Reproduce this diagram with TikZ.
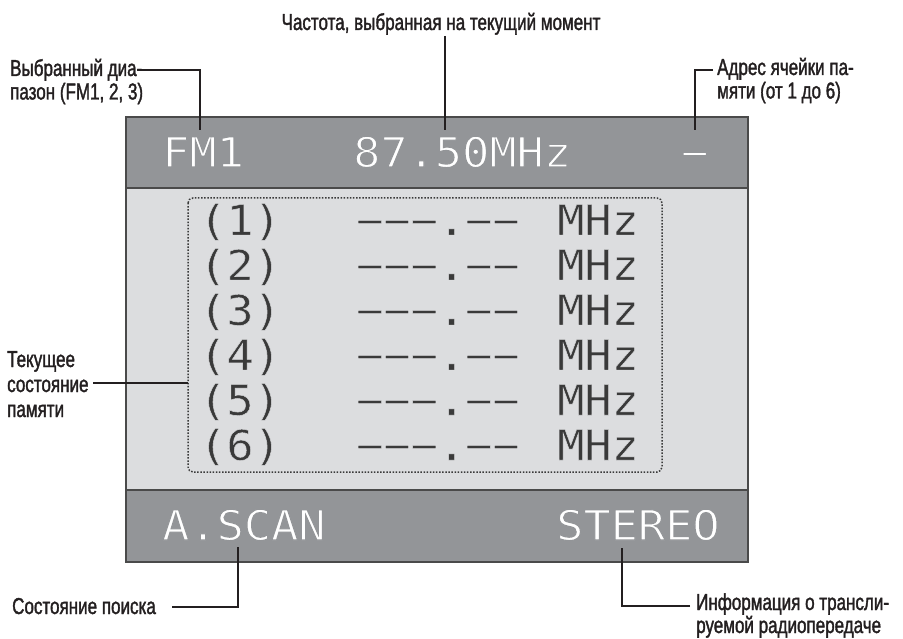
\documentclass[tikz,border=0pt]{standalone}
\usepackage{fontspec}
\setmainfont{Liberation Sans}[FakeStretch=0.74]
\newfontfamily\lcd{DejaVu Sans Mono}[FakeStretch=1.09]
\definecolor{bargray}{HTML}{939598}
\definecolor{midgray}{HTML}{DCDDDF}
\definecolor{frame}{HTML}{4A4A4A}
\definecolor{ink}{HTML}{3A3A3A}
\definecolor{txt}{HTML}{231F20}
% thin the display glyphs by stroking their outlines in the background colour
\newcommand\lcdthinw{\special{pdf:literal direct 2 Tr 1.1 w 0.576 0.584 0.596 RG}}
\newcommand\lcdthind{\special{pdf:literal direct 2 Tr 0.45 w 0.863 0.867 0.875 RG}}
\newcommand\lblheavy{\special{pdf:literal direct 2 Tr 0.35 w 0.137 0.122 0.125 RG}}
\tikzset{
  lbl/.style={inner sep=0pt, align=left, text=txt, font=\fontsize{23}{23.5}\selectfont, execute at begin node=\lblheavy},
  conn/.style={draw=txt, line width=1.4pt},
  lcdw/.style={inner sep=0pt, anchor=base west, text=white, font=\lcd\fontsize{41.5}{41.5}\selectfont},
  lcdd/.style={inner sep=0pt, anchor=base west, text=ink, font=\lcd\fontsize{41.5}{41.5}\selectfont},
}
\begin{document}
\begin{tikzpicture}[x=1pt,y=-1pt]
\useasboundingbox (0,0) rectangle (903,639);
% display panels
\fill[bargray] (126,117) rectangle (748,188);
\fill[midgray] (126,188) rectangle (748,490);
\fill[bargray] (126,490) rectangle (748,562);
\draw[frame, line width=2pt] (126,188) -- (748,188) (126,490) -- (748,490);
\draw[frame, line width=2pt] (126,117) rectangle (748,562);
\draw[ink, line width=1.5pt, dash pattern=on 1.5pt off 1.6pt, rounded corners=5pt] (188,198) rectangle (662,472);
% top bar
\node[lcdw] (fm) at (162,167) {\lcdthinw FM1};
\node[lcdw] (freq) at (353,167) {\lcdthinw 87.50MHz};
\node[lcdw] (cell) at (681,167) {\lcdthinw −};
% memory rows
\foreach \i in {1,...,6}{
  \node[lcdd] (n\i) at (199,{235+45*(\i-1)}) {\lcdthind(\i)};
  \node[lcdd] (f\i) at (356,{235+45*(\i-1)}) {\lcdthind−−−.−−};
  \node[lcdd] (u\i) at (557,{235+45*(\i-1)}) {\lcdthind MHz};
}
% bottom bar
\node[lcdw] (scan) at (162,540) {\lcdthinw A.SCAN};
\node[lcdw] (stereo) at (556,540) {\lcdthinw STEREO};
% labels (base anchor = baseline of the last line)
\node[lbl, anchor=base] (ltop) at (441,30) {Частота, выбранная на текущий момент};
\node[lbl, anchor=base west] (lband) at (10,99.5) {Выбранный диа-\\пазон (FM1, 2, 3)};
\node[lbl, anchor=base west] (laddr) at (717,98.5) {Адрес ячейки па-\\мяти (от 1 до 6)};
\node[lbl, anchor=base west, font=\fontsize{23}{25}\selectfont] (lmem) at (7,417) {Текущее\\состояние\\памяти};
\node[lbl, anchor=base west] (lscan) at (12,614) {Состояние поиска};
\node[lbl, anchor=base west, font=\fontsize{23}{23}\selectfont] (linfo) at (696,633) {Информация о трансли-\\руемой радиопередаче};
% connectors
\coordinate (ctop) at (445,36);
\coordinate (cfreq) at (445,130);
\draw[conn] (ctop) -- (cfreq);
\coordinate (cband) at (137,70);
\coordinate (cfm) at (200,130);
\draw[conn] (cband) -| (cfm);
\coordinate (caddr) at (713,70);
\coordinate (ccell) at (695,130);
\draw[conn] (caddr) -| (ccell);
\coordinate (cmem) at (93,383);
\coordinate (cbox) at (188,383);
\draw[conn] (cmem) -- (cbox);
\coordinate (cscanl) at (172,607);
\coordinate (cscan) at (238,547);
\draw[conn] (cscanl) -| (cscan);
\coordinate (cinfo) at (690,606);
\coordinate (cst) at (622,548);
\draw[conn] (cinfo) -| (cst);
\end{tikzpicture}
\end{document}
